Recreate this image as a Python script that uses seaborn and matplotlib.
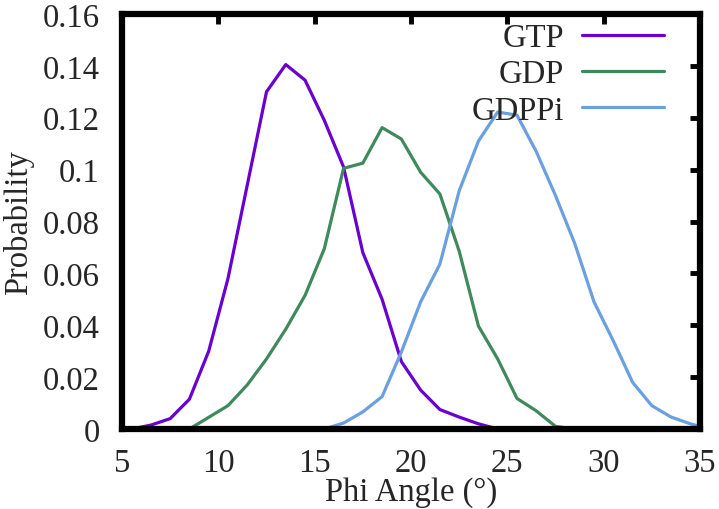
import matplotlib
matplotlib.use("Agg")
import matplotlib.pyplot as plt
import seaborn as sns
import pandas as pd

gtp_x = [5.5, 6.5, 7.5, 8.5, 9.5, 10.5, 11.5, 12.5, 13.5, 14.5, 15.5, 16.5, 17.5, 18.5, 19.5, 20.5, 21.5, 22.5, 23.5, 24.5]
gtp_y = [0.0, 0.0015, 0.004, 0.0115, 0.030, 0.058, 0.094, 0.130, 0.1405, 0.1345, 0.119, 0.101, 0.068, 0.050, 0.026, 0.0150, 0.0075, 0.0046, 0.002, 0.0]

gdp_x = [8.5, 9.5, 10.5, 11.5, 12.5, 13.5, 14.5, 15.5, 16.5, 17.5, 18.5, 19.5, 20.5, 21.5, 22.5, 23.5, 24.5, 25.5, 26.5, 27.5, 28.5]
gdp_y = [0.0, 0.0045, 0.009, 0.017, 0.027, 0.0385, 0.0515, 0.0695, 0.1005, 0.1025, 0.1162, 0.1118, 0.099, 0.0906, 0.0686, 0.0397, 0.027, 0.0118, 0.007, 0.001, 0.0]

gdppi_x = [15.5, 16.5, 17.5, 18.5, 19.5, 20.5, 21.5, 22.5, 23.5, 24.5, 25.5, 26.5, 27.5, 28.5, 29.5, 30.5, 31.5, 32.5, 33.5, 34.5, 35.5]
gdppi_y = [0.0, 0.0023, 0.0066, 0.0125, 0.0297, 0.049, 0.0636, 0.0918, 0.111, 0.1222, 0.121, 0.107, 0.090, 0.0715, 0.049, 0.034, 0.018, 0.009, 0.0046, 0.002, 0.0]

labels = ["GTP", "GDP", "GDPPi"]
colors = ["#6a00cf", "#3f8a5c", "#6a9fe0"]
x_ticks = [5, 10, 15, 20, 25, 30, 35]
y_ticks = [0, 0.02, 0.04, 0.06, 0.08, 0.1, 0.12, 0.14, 0.16]
y_tick_labels = ["0", "0.02", "0.04", "0.06", "0.08", "0.1", "0.12", "0.14", "0.16"]

df = pd.concat([
    pd.DataFrame({"x": gtp_x, "y": gtp_y, "s": labels[0]}),
    pd.DataFrame({"x": gdp_x, "y": gdp_y, "s": labels[1]}),
    pd.DataFrame({"x": gdppi_x, "y": gdppi_y, "s": labels[2]}),
], ignore_index=True)

sns.set_style("white")
plt.rcParams["font.family"] = ["Liberation Serif", "DejaVu Serif"]

fig = plt.figure(figsize=(7.19, 5.10), dpi=100)
ax = fig.add_axes([122 / 719, 1 - 430 / 510, (700 - 122) / 719, (430 - 15) / 510])

sns.lineplot(data=df, x="x", y="y", hue="s", palette=dict(zip(labels, colors)),
             hue_order=labels, linewidth=2.3, ax=ax, sort=False, estimator=None)

FS = 23.5
ax.set_xlim(5, 35)
ax.set_ylim(0, 0.16)
ax.set_xticks(x_ticks)
ax.set_yticks(y_ticks)
ax.set_yticklabels(y_tick_labels)
ax.tick_params(axis="both", which="major", direction="in", length=7, width=3.5,
               top=True, right=True, labelsize=FS, color="black")
ax.tick_params(axis="y", pad=16)
ax.tick_params(axis="x", pad=13)
for sp in ax.spines.values():
    sp.set_linewidth(4.5)
    sp.set_color("black")
    sp.set_visible(True)

ax.set_xlabel("Phi Angle (°)", fontsize=FS, labelpad=-1)
ax.set_ylabel("Probability", fontsize=FS, labelpad=6)

handles, lbls = ax.get_legend_handles_labels()
leg = ax.legend(handles, lbls, loc="upper right", bbox_to_anchor=(0.96, 1.01),
                frameon=False, markerfirst=False, fontsize=FS, handlelength=2.5,
                handletextpad=0.55, labelspacing=0.17, borderaxespad=0)
for t in leg.get_texts():
    t.set_ha("right")

fig.savefig("out.png", dpi=100)
